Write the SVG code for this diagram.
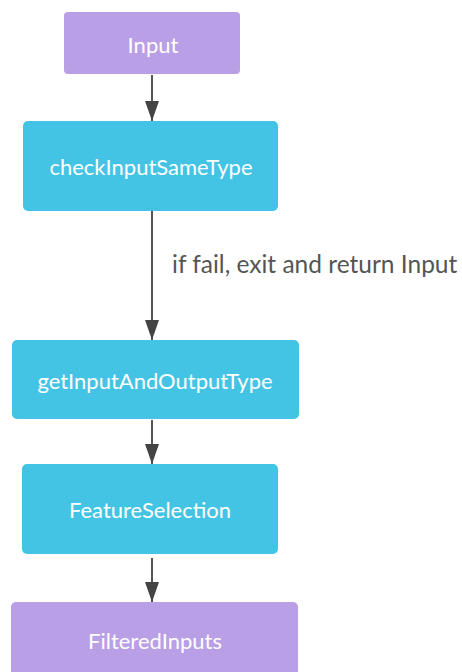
<svg xmlns="http://www.w3.org/2000/svg" width="462" height="672" viewBox="0 0 462 672">
<defs>
<style>
.io rect{fill:#b89fe6}
.fn rect{fill:#44c4e4}
.node text{font-family:Lato,"Liberation Sans",sans-serif;font-size:22px;fill:#ffffff;text-anchor:middle}
.edge{stroke:#555555;stroke-width:2;fill:none}
.lbl{font-family:Lato,"Liberation Sans",sans-serif;font-size:24.5px;fill:#555555}
</style>
<marker id="ah" markerWidth="20" markerHeight="14" refX="20" refY="7" orient="auto" markerUnits="userSpaceOnUse">
<path d="M0,0 L20,7 L0,14 Z" fill="#444444"/>
</marker>
</defs>
<rect width="462" height="672" fill="#ffffff"/>
<g id="connectors">
<path class="edge" d="M152,75 V121" marker-end="url(#ah)"/>
<path class="edge" d="M152,211 V340" marker-end="url(#ah)"/>
<path class="edge" d="M152,420 V464" marker-end="url(#ah)"/>
<path class="edge" d="M152,558 V602" marker-end="url(#ah)"/>
<text class="lbl" x="172" y="273">if fail, exit and return Input</text>
</g>
<g id="input" class="node io">
<rect x="64" y="12" width="176" height="62" rx="4"/>
<text x="153" y="52.5">Input</text>
</g>
<g id="checkInputSameType" class="node fn">
<rect x="23" y="121" width="255" height="90" rx="5"/>
<text x="151" y="175">checkInputSameType</text>
</g>
<g id="getInputAndOutputType" class="node fn">
<rect x="12" y="340" width="287" height="79" rx="5"/>
<text x="155" y="389">getInputAndOutputType</text>
</g>
<g id="featureSelection" class="node fn">
<rect x="22" y="464" width="256" height="90" rx="5"/>
<text x="150" y="517.5">FeatureSelection</text>
</g>
<g id="filteredInputs" class="node io">
<rect x="11" y="602" width="287" height="80" rx="5"/>
<text x="155" y="649">FilteredInputs</text>
</g>
</svg>
